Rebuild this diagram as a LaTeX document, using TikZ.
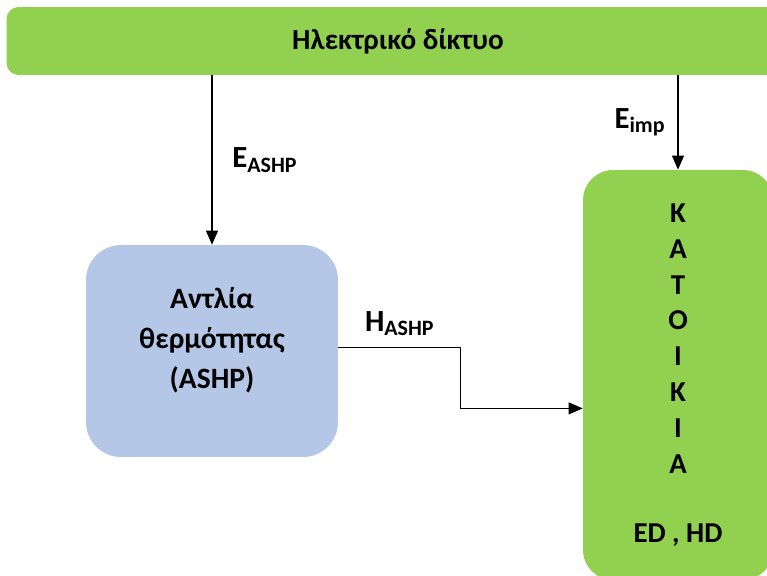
\documentclass[tikz,border=0pt]{standalone}
\usepackage{fontspec}
\setmainfont{Carlito}
\usetikzlibrary{arrows.meta}
\definecolor{gridgreen}{HTML}{92D050}
\definecolor{pumpblue}{HTML}{B4C7E7}
\newcommand{\lowsub}[1]{\raisebox{-0.3ex}{\fontsize{12.5}{14}\selectfont #1}}
\tikzset{
	gridbar/.style={fill=gridgreen, rounded corners=0.24cm, minimum width=15.66cm, minimum height=1.36cm, inner sep=0pt},
	pumpbox/.style={fill=pumpblue, rounded corners=0.7cm, minimum width=5.04cm, minimum height=4.24cm, inner sep=0pt},
	housebox/.style={fill=gridgreen, rounded corners=0.6cm, minimum width=3.8cm, minimum height=8.2cm, inner sep=0pt, align=center, font=\fontsize{16.4}{20.4}\selectfont\bfseries},
	flow/.style={line width=0.6pt, -{Triangle[length=8pt, width=6.8pt]}},
	flowlabel/.style={font=\fontsize{17.5}{19}\selectfont\bfseries}
}
\begin{document}
\begin{tikzpicture}[x=0.02cm, y=-0.02cm, font=\bfseries, line join=round]
	\useasboundingbox (0,0) rectangle (767,575);
	\clip (0,0) rectangle (767,575);
	% Ηλεκτρικό δίκτυο (πάνω μπάρα)
	\node[gridbar, font=\fontsize{16.6}{18}\selectfont\bfseries] (grid) at (398,41) {Ηλεκτρικό δίκτυο};
	% Αντλία θερμότητας
	\node[pumpbox, label={[align=center, font=\fontsize{16.8}{22.7}\selectfont\bfseries, yshift=6pt]center:Αντλία\\θερμότητας\\(ASHP)}] (ashp) at (212,351) {};
	% Κατοικία
	\node[housebox] (house) at (678,375) {K\\A\\T\\O\\I\\K\\I\\A\\[19pt]ED , HD};
	% Ροές ενέργειας
	\draw[flow] (ashp.north |- grid.south) -- node[midway, right=8pt, flowlabel] {E\lowsub{ASHP}} (ashp.north);
	\draw[flow] (house.north |- grid.south) -- node[midway, left=4pt, flowlabel] {E\lowsub{imp}} (house.north);
	\draw[flow] ([yshift=2pt]ashp.east) -- node[midway, above=3pt, flowlabel] {H\lowsub{ASHP}} ++(122,0) |- ([yshift=-19pt]house.west);
\end{tikzpicture}
\end{document}
